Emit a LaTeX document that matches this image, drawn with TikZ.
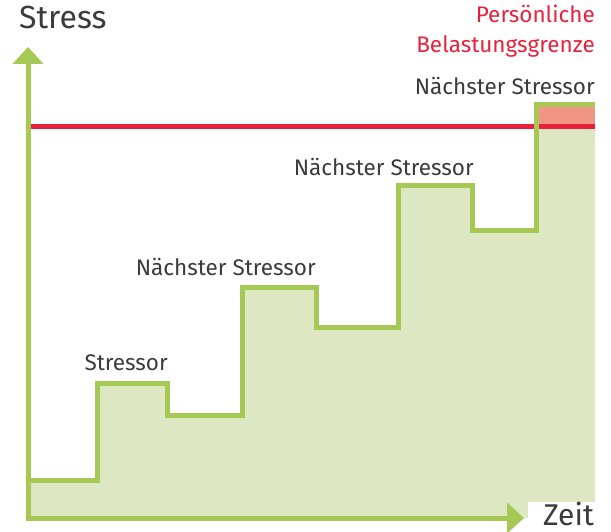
\documentclass[tikz,border=0pt]{standalone}
\usepackage{fontspec}
\setmainfont{Fira Sans}
\usetikzlibrary{arrows.meta}
\definecolor{lgreen}{HTML}{A6C955}
\definecolor{fgreen}{HTML}{DDE7C1}
\definecolor{lred}{HTML}{E8213B}
\definecolor{salmon}{HTML}{F29584}
\definecolor{txt}{HTML}{3B3B3B}
\tikzset{
  lbl/.style={font=\fontsize{22.5}{26}\selectfont, text=txt, inner sep=0pt, anchor=base east},
  axis/.style={draw=lgreen, line width=5pt, -{Triangle[width=30pt,length=17pt]}},
  stepline/.style={draw=lgreen, line width=5pt, line join=miter},
}
\begin{document}
\begin{tikzpicture}[x=1pt,y=-1pt]
\useasboundingbox (0,0) rectangle (611,532);
% coordinates
\coordinate (o) at (28,518);
\coordinate (ytip) at (28,47);
\coordinate (xtip) at (524,518);
\coordinate (s0) at (28,480);
\coordinate (s1) at (97,480);
\coordinate (s2) at (97,383);
\coordinate (s3) at (167,383);
\coordinate (s4) at (167,415);
\coordinate (s5) at (242,415);
\coordinate (s6) at (242,287);
\coordinate (s7) at (316,287);
\coordinate (s8) at (316,327);
\coordinate (s9) at (398,327);
\coordinate (s10) at (398,186);
\coordinate (s11) at (472,186);
\coordinate (s12) at (472,231);
\coordinate (s13) at (536,231);
\coordinate (s14) at (536,105);
\coordinate (s15) at (595,105);
\coordinate (br) at (595,518);
% fill
\fill[fgreen] (o) -- (s0) -- (s1) -- (s2) -- (s3) -- (s4) -- (s5) -- (s6) -- (s7) -- (s8) -- (s9) -- (s10) -- (s11) -- (s12) -- (s13) -- (s14) -- (s15) -- (br) -- cycle;
\fill[salmon] (538,107) rectangle (595,125);
% limit line
\coordinate (l0) at (31,127);
\coordinate (l1) at (595,127);
\draw[lred, line width=5pt] (l0) -- (l1);
% step line
\draw[stepline] (s0) -- (s1) -- (s2) -- (s3) -- (s4) -- (s5) -- (s6) -- (s7) -- (s8) -- (s9) -- (s10) -- (s11) -- (s12) -- (s13) -- (s14) -- (s15);
% axes
\draw[axis] (28,520.5) -- (ytip);
\draw[axis] (25.5,518) -- (xtip);
% labels
\fill[white] (528,502) rectangle (611,532);
\node[font=\fontsize{32}{36}\selectfont, text=txt, inner sep=0pt, anchor=base west] (ylab) at (19,29) {Stress};
\node[font=\fontsize{30}{34}\selectfont, text=txt, inner sep=0pt, anchor=base east] (xlab) at (594,525) {Zeit};
\node[lbl, text=lred] (p1) at (595,23) {Persönliche};
\node[lbl, text=lred] (p2) at (595,53) {Belastungsgrenze};
\node[lbl] (n4) at (595,95) {Nächster Stressor};
\node[lbl] (n3) at (474,176) {Nächster Stressor};
\node[lbl] (n2) at (316,276) {Nächster Stressor};
\node[lbl] (n1) at (168,370) {Stressor};
\end{tikzpicture}
\end{document}
